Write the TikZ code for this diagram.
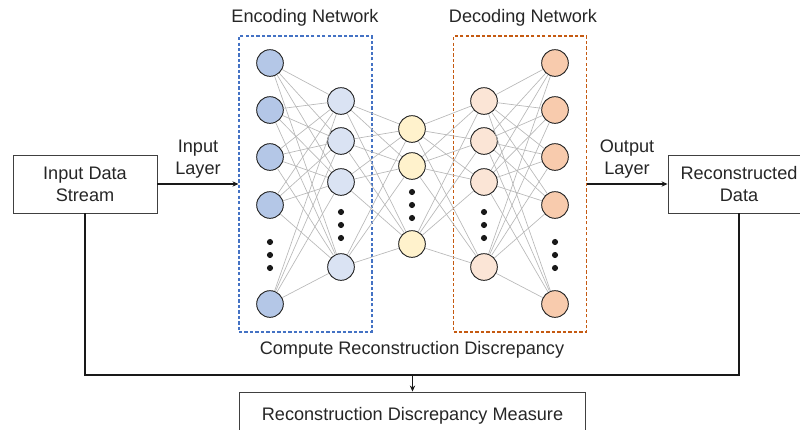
\documentclass[tikz,border=0pt]{standalone}
\usepackage{fontspec}
\setmainfont{Liberation Sans}
\usetikzlibrary{positioning, arrows.meta}
\definecolor{encblue}{HTML}{4472C4}
\definecolor{decorange}{HTML}{C55A11}
\definecolor{inblue}{HTML}{B4C7E7}
\definecolor{hidblue}{HTML}{DAE3F3}
\definecolor{codeyellow}{HTML}{FFF2CC}
\definecolor{hidorange}{HTML}{FBE5D6}
\definecolor{outorange}{HTML}{F8CBAD}
\definecolor{linkgray}{HTML}{B8B8B8}
\definecolor{txt}{HTML}{262626}
\tikzset{
  neuron/.style={draw=black!85, circle, minimum size=20pt, inner sep=0pt, line width=0.7pt},
  databox/.style={draw=black!75, rectangle, minimum width=108pt, minimum height=43.5pt,
    align=center, line width=0.7pt, text=txt},
  netbox/.style={rectangle, dashed, dash pattern=on 2.5pt off 1.6pt, line width=0.8pt,
    minimum width=99.75pt, minimum height=222pt},
  label/.style={align=center, text=txt},
  link/.style={draw=linkgray, line width=0.5pt},
  ->/.style={-{Stealth[length=4.5pt, width=4pt]}},
  x=0.75pt, y=-0.75pt, line width=0.8pt,
  font=\fontsize{13.6}{16.5}\selectfont
}

\begin{document}
\begin{tikzpicture}
    \useasboundingbox (0,0) rectangle (800,429);

    % dashed network boxes
    \node[netbox, draw=encblue] (encbox) at (305.5,184) {};
    \node[netbox, draw=decorange] (decbox) at (520,184) {};
    \node[label] at (305,18) {Encoding Network};
    \node[label] at (523,18) {Decoding Network};

    % neurons
    \foreach \y [count=\i] in {63,110,157,205,304}
        \node[neuron, fill=inblue] (a\i) at (270,\y) {};
    \foreach \y [count=\i] in {101,141,182,267}
        \node[neuron, fill=hidblue] (b\i) at (341,\y) {};
    \foreach \y [count=\i] in {129,166,244}
        \node[neuron, fill=codeyellow] (c\i) at (412,\y) {};
    \foreach \y [count=\i] in {101,141,182,267}
        \node[neuron, fill=hidorange] (d\i) at (484,\y) {};
    \foreach \y [count=\i] in {63,110,157,205,304}
        \node[neuron, fill=outorange] (e\i) at (555,\y) {};

    % links
    \foreach \i in {1,...,5}
        \foreach \j in {1,...,4} {
            \draw[link] (a\i) -- (b\j);
            \draw[link] (d\j) -- (e\i);
        }
    \foreach \i in {1,...,4}
        \foreach \j in {1,...,3} {
            \draw[link] (b\i) -- (c\j);
            \draw[link] (c\j) -- (d\i);
        }

    % dots
    \foreach \x/\y in {270/242, 341/212, 412/192, 484/212, 555/242}
        \foreach \k in {0,1,2}
            \fill[black!90] (\x,\y+13*\k) circle (2.3pt);

    % data boxes
    \node[databox] (input) at (85,184) {Input Data\\Stream};
    \node[databox, minimum width=106.5pt] (recon) at (739,184) {Reconstructed\\Data};
    \node[databox, minimum width=260pt, minimum height=36pt] (measure) at (412.5,416)
        {Reconstruction Discrepancy Measure};

    \draw[->, black!90, line width=0.9pt] (input) -- (encbox);
    \draw[->, black!90, line width=0.9pt] (decbox) -- (recon);
    \node[label] at (198,159) {Input\\Layer};
    \node[label] at (627,159) {Output\\Layer};

    % discrepancy path
    \coordinate (junction) at (412.5,375);
    \node[label] at (412,350) {Compute Reconstruction Discrepancy};
    \draw[black!90, line width=1pt] (input.south) |- (junction) -| (recon.south);
    \draw[->, black!90, line width=1pt] (junction) -- (measure.north);
\end{tikzpicture}
\end{document}
